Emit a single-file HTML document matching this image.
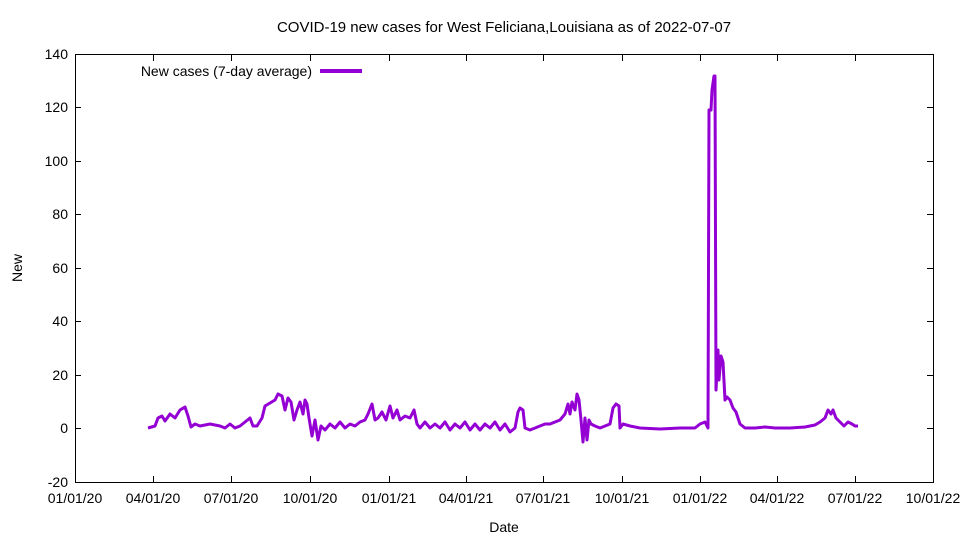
<!DOCTYPE html>
<html><head><meta charset="utf-8"><style>
body{margin:0;background:#fff;}
svg{display:block;font-family:"Liberation Sans",sans-serif;}
</style></head><body>
<svg width="960" height="540" viewBox="0 0 960 540" xmlns="http://www.w3.org/2000/svg">
<rect width="960" height="540" fill="#fff"/>
<text x="504" y="32" font-size="15" text-anchor="middle">COVID-19 new cases for West Feliciana,Louisiana as of 2022-07-07</text>
<g stroke="#000" stroke-width="1" fill="none">
<rect x="75.5" y="54.5" width="858" height="428"/>
<path d="M75.5 482v-6M153.5 482v-6M231.5 482v-6M310.5 482v-6M389.5 482v-6M466.5 482v-6M543.5 482v-6M622.5 482v-6M700.5 482v-6M777.5 482v-6M855.5 482v-6M933.5 482v-6
M75.5 55v6M153.5 55v6M231.5 55v6M310.5 55v6M389.5 55v6M466.5 55v6M543.5 55v6M622.5 55v6M700.5 55v6M777.5 55v6M855.5 55v6
M75 482.5h6M75 428.5h6M75 375.5h6M75 321.5h6M75 268.5h6M75 214.5h6M75 161.5h6M75 107.5h6M75 54.5h6
M933 482.5h-6M933 428.5h-6M933 375.5h-6M933 321.5h-6M933 268.5h-6M933 214.5h-6M933 161.5h-6M933 107.5h-6"/>
</g>
<g font-size="14" text-anchor="end">
<text x="68" y="487">-20</text><text x="68" y="433">0</text><text x="68" y="380">20</text><text x="68" y="326">40</text><text x="68" y="273">60</text><text x="68" y="219">80</text><text x="68" y="166">100</text><text x="68" y="112">120</text><text x="68" y="59">140</text>
</g>
<g font-size="14" text-anchor="middle">
<text x="75" y="503">01/01/20</text><text x="153" y="503">04/01/20</text><text x="231" y="503">07/01/20</text><text x="310" y="503">10/01/20</text><text x="389" y="503">01/01/21</text><text x="466" y="503">04/01/21</text><text x="543" y="503">07/01/21</text><text x="622" y="503">10/01/21</text><text x="700" y="503">01/01/22</text><text x="777" y="503">04/01/22</text><text x="855" y="503">07/01/22</text><text x="933" y="503">10/01/22</text>
<text x="504" y="532">Date</text>
</g>
<text x="22" y="268" font-size="14" text-anchor="middle" transform="rotate(-90 22 268)">New</text>
<text x="312" y="76" font-size="14" text-anchor="end">New cases (7-day average)</text>
<line x1="320" y1="71" x2="362" y2="71" stroke="#9400d3" stroke-width="4"/>
<polyline fill="none" stroke="#9400d3" stroke-width="3" stroke-linejoin="round" points="148,428 155,426 158,418 162,416 165,421 170,414 175,418 180,410 185,407 188,416 191,427 195,424 200,426 210,424 220,426 225,428 230,424 235,428 240,426 245,422 250,418 253,426 257,426 262,418 265,406 270,403 275,400 278,394 282,396 285,410 288,398 291,402 294,420 297,410 300,402 303,414 305,400 307,404 309,418 312,436 315,420 318,440 321,426 325,430 330,424 335,428 340,422 345,428 350,424 355,426 360,422 365,420 368,414 372,404 375,420 378,418 382,412 386,420 390,406 393,418 397,410 400,420 405,416 410,418 414,410 417,424 420,428 425,422 430,428 435,424 440,428 445,422 450,430 455,424 460,428 465,422 470,430 475,424 480,430 485,424 490,428 495,422 500,430 505,424 510,432 515,428 518,412 520,408 523,410 525,428 530,430 535,428 540,426 545,424 550,424 555,422 560,420 565,414 568,404 570,414 572,402 575,410 577,394 579,400 581,420 583,442 585,418 587,440 589,420 591,424 595,426 600,428 605,426 610,424 613,408 616,404 619,406 620,428 623,424 630,426 640,428 660,429 680,428 695,428 700,424 705,422 708,428 709,110 711,110 712,90 714,76 715,76 716,390 718,350 719,380 721,356 723,362 725,400 727,397 730,400 733,408 736,412 740,424 745,428 755,428 765,427 775,428 790,428 805,427 815,425 820,422 825,418 828,410 831,414 833,410 836,418 840,422 844,426 848,422 852,424 855,426 858,426"/>
</svg>
</body></html>
